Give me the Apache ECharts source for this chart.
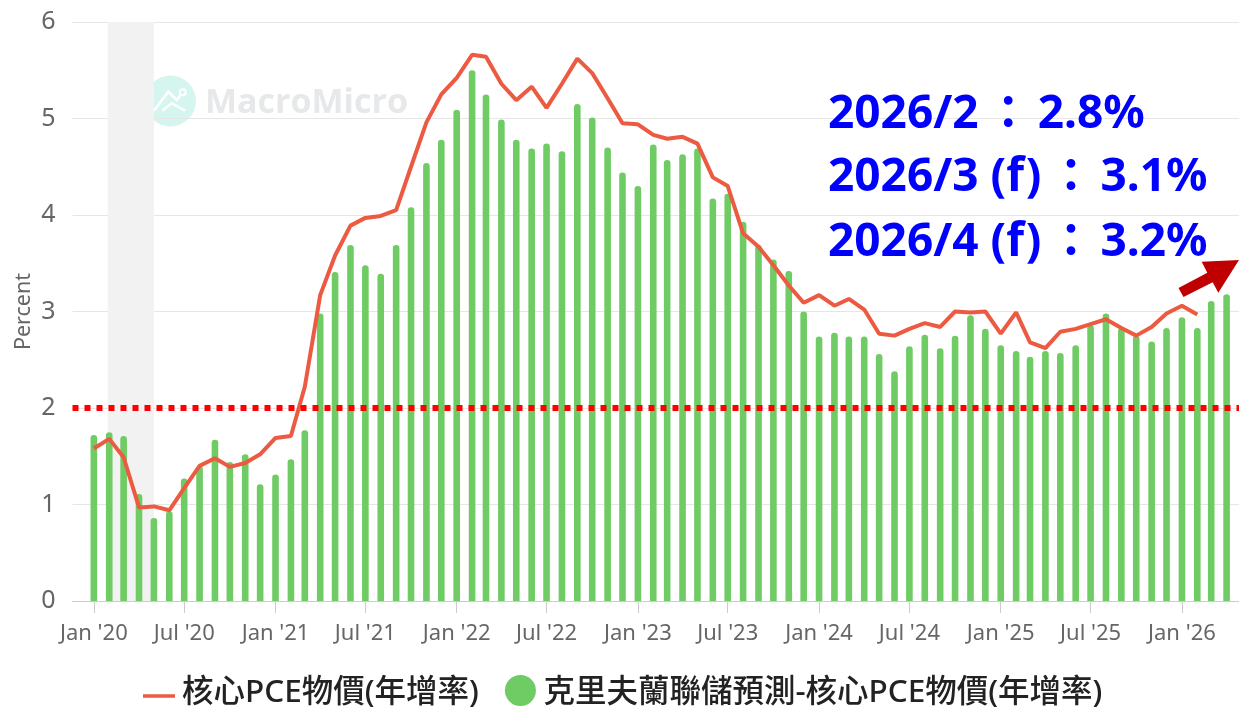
<!DOCTYPE html>
<html><head><meta charset="utf-8">
<style>html,body{margin:0;padding:0;background:#fff}#c{width:1239px;height:709px}</style>
<script src="https://cdn.jsdelivr.net/npm/echarts@6/dist/echarts.min.js"></script>
</head><body><div id="c"></div>
<script>
const startYear = 2020;
const barValues = [1.72,1.75,1.71,1.11,0.86,0.93,1.27,1.40,1.67,1.44,1.52,1.21,
 1.31,1.47,1.77,2.98,3.41,3.69,3.48,3.39,3.69,4.08,4.54,4.78,
 5.09,5.50,5.25,4.99,4.78,4.69,4.74,4.66,5.15,5.01,4.70,4.44,
 4.30,4.73,4.57,4.63,4.69,4.17,4.22,3.93,3.69,3.54,3.42,3.00,
 2.74,2.78,2.74,2.74,2.56,2.38,2.64,2.76,2.62,2.75,2.96,2.82,
 2.65,2.59,2.53,2.59,2.57,2.65,2.86,2.98,2.83,2.75,2.69,2.83,
 2.94,2.83,3.11,3.18];
const lineValues = [1.58,1.68,1.49,0.97,0.98,0.94,1.17,1.40,1.48,1.39,1.43,1.52,
 1.69,1.71,2.22,3.17,3.58,3.89,3.97,3.99,4.05,4.50,4.96,5.25,
 5.42,5.66,5.64,5.36,5.19,5.33,5.11,5.36,5.62,5.47,5.21,4.95,
 4.94,4.83,4.79,4.81,4.74,4.39,4.30,3.81,3.67,3.48,3.27,3.09,
 3.17,3.06,3.13,3.02,2.77,2.75,2.82,2.88,2.84,3.00,2.99,3.00,
 2.77,2.99,2.68,2.62,2.79,2.82,2.87,2.92,2.83,2.75,2.84,2.98,
 3.06,2.97];
const tickMonths = [[2020,0],[2020,6],[2021,0],[2021,6],[2022,0],[2022,6],[2023,0],[2023,6],[2024,0],[2024,6],[2025,0],[2025,6],[2026,0]];
const monthNames = ['Jan','Feb','Mar','Apr','May','Jun','Jul','Aug','Sep','Oct','Nov','Dec'];
const notes = [['2026/2','2.8%'],['2026/3 (f)','3.1%'],['2026/4 (f)','3.2%']];
const lineName = '核心PCE物價(年增率)';
const barName = '克里夫蘭聯儲預測-核心PCE物價(年增率)';
const target = 2;
const mt = i => Date.UTC(startYear, i, 1);
const ticks = tickMonths.map(([y,m]) => Date.UTC(y,m,1));
const axisMin = Date.UTC(2019,10,19), axisMax = Date.UTC(2026,3,26);
const CJK = '"Noto Sans","Noto Sans CJK TC",sans-serif';
const noteFont = '"Noto Sans","Noto Sans CJK TC"';
const noteText = (n,top) => ({type:'text',z:50,left:828,top,style:{
  text:'{a|'+n[0]+'}{c|：}{a|'+n[1]+'}',
  rich:{a:{fontFamily:noteFont,fontWeight:'bold',fontSize:46,fill:'#0000ff',color:'#0000ff'},
        c:{fontFamily:noteFont,fontWeight:'bold',fontSize:46,fill:'#0000ff',color:'#0000ff',padding:[0,6.5,0,6.5]}}}});
const chart = echarts.init(document.getElementById('c'));
chart.setOption({
  animation:false,
  grid:{left:72.5,right:0,top:22,bottom:108,outerBoundsMode:'none'},
  legend:{top:675,left:143,padding:0,itemGap:26,itemWidth:32,itemHeight:31,
    data:[{name:lineName,icon:'path://M0 -11H0V-11ZM0 0H32V3.5H0Z',itemStyle:{color:'#ec5a42',borderWidth:0}},{name:barName,icon:'circle'}],
    formatter:n=>'{t|'+n+'}',
    textStyle:{rich:{t:{fontFamily:CJK,fontSize:31.5,fontWeight:500,color:'#222',padding:[6,0,0,2]}}}},
  xAxis:{type:'value',min:axisMin,max:axisMax,
    splitLine:{show:false},
    axisLine:{lineStyle:{color:'#cccccc',width:1}},
    axisTick:{show:true,length:12,customValues:ticks,lineStyle:{color:'#cccccc'}},
    axisLabel:{customValues:ticks,margin:22,color:'#666',fontFamily:'"Noto Sans",sans-serif',fontSize:22,hideOverlap:false,
      showMinLabel:true,showMaxLabel:true,
      formatter:v=>{const d=new Date(v);return monthNames[d.getUTCMonth()]+" '"+String(d.getUTCFullYear()).slice(2);}}},
  yAxis:{type:'value',min:0,max:6,interval:1,
    name:'Percent',nameLocation:'middle',nameGap:38,nameRotate:90,nameMoveOverlap:false,
    nameTextStyle:{color:'#666',fontSize:21.5,fontFamily:'"Noto Sans",sans-serif'},
    axisLine:{show:false},axisTick:{show:false},
    splitLine:{lineStyle:{color:'#e6e6e6',width:1}},
    axisLabel:{margin:17,color:'#666',fontSize:25,fontFamily:'"Noto Sans",sans-serif'}},
  graphic:[
    {type:'circle',z:0,shape:{cx:170.5,cy:101,r:25.5},style:{fill:'#d5f6ef'}},
    {type:'polyline',z:0,shape:{points:[[154,110.7],[168.3,91.7],[176.7,100],[181,94.5]]},style:{fill:'none',stroke:'#ffffff',lineWidth:2.5}},
    {type:'polyline',z:0,shape:{points:[[162.3,110.7],[171.7,103.3],[185,110.7]]},style:{fill:'none',stroke:'#ffffff',lineWidth:2.5}},
    {type:'circle',z:0,shape:{cx:182.7,cy:92.3,r:3},style:{fill:'#d5f6ef',stroke:'#ffffff',lineWidth:2}},
    {type:'text',z:0,left:205,top:86,style:{text:'MacroMicro',font:'bold 34px "Open Sans",sans-serif',fill:'#e6e8ea'}},
    noteText(notes[0],92), noteText(notes[1],155), noteText(notes[2],220),
    {type:'polygon',z:50,shape:{points:[[1178.5,288],[1207.3,272.7],[1201.7,261.7],[1239,260],[1218.3,292.7],[1212.7,282.3],[1183.5,297]]},style:{fill:'#c00000'}}
  ],
  series:[
    {name:barName,type:'bar',barWidth:6.6,z:2,
      itemStyle:{color:'#6fcb63',borderRadius:[3.3,3.3,0,0]},
      data:barValues.map((v,i)=>[mt(i),v]),
      markArea:{silent:true,z:1,itemStyle:{color:'#f2f2f2'},label:{show:false},
        data:[[{xAxis:Date.UTC(2020,0,29)},{xAxis:Date.UTC(2020,4,1)}]]}},
    {name:lineName,type:'line',z:3,symbol:'none',showSymbol:false,
      lineStyle:{color:'#ec5a42',width:4},itemStyle:{color:'#ec5a42'},
      data:lineValues.map((v,i)=>[mt(i),v]),
      markLine:{silent:true,symbol:'none',z:4,label:{show:false},animation:false,
        lineStyle:{color:'#ff0000',type:[6,6],width:6,opacity:1},
        data:[{yAxis:target}]}}
  ]
});
</script></body></html>
